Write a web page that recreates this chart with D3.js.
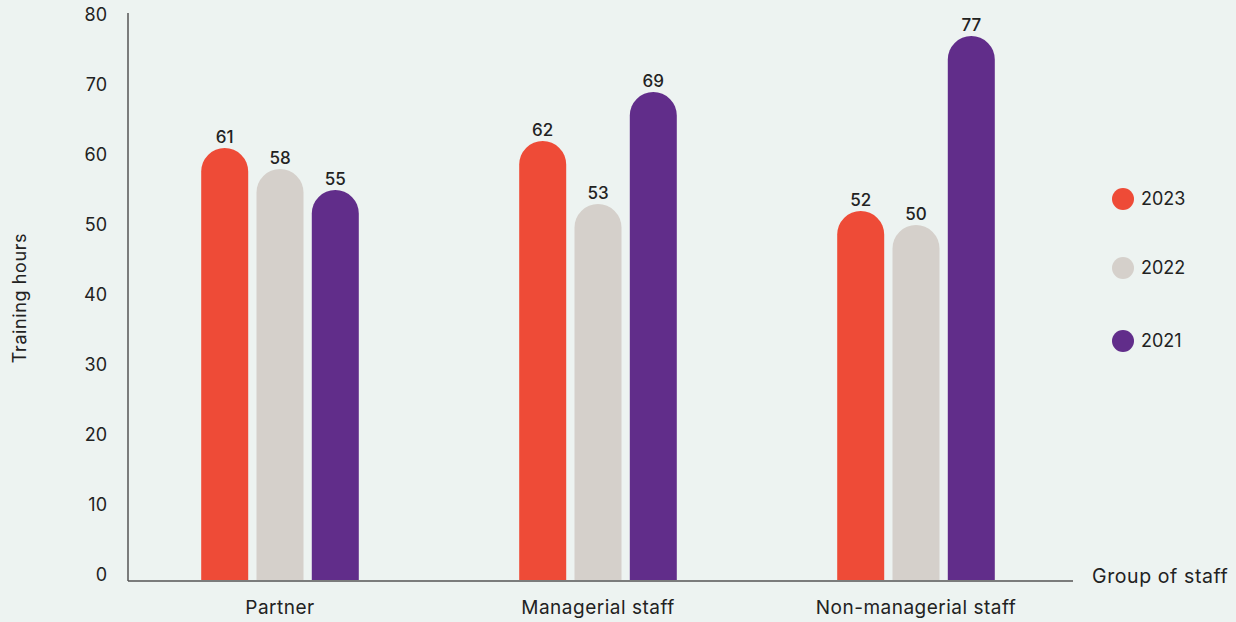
<!DOCTYPE html>
<html>
<head>
<meta charset="utf-8">
<script src="https://cdn.jsdelivr.net/npm/d3@7"></script>
<style>
  html, body { margin: 0; padding: 0; background: #EDF3F1; }
  svg { display: block; }
  text { font-family: "Inter", "Noto Sans", sans-serif; fill: #222; }
</style>
</head>
<body>
<svg id="chart" width="1236" height="622"></svg>
<script>
// Average training hours per staff group, by year
const categories = ["Partner", "Managerial staff", "Non-managerial staff"];
const years = ["2023", "2022", "2021"];
const values2023 = [61, 62, 52];
const values2022 = [58, 53, 50];
const values2021 = [55, 69, 77];
const yTicks = [0, 10, 20, 30, 40, 50, 60, 70, 80];
const colors = ["#EE4B37", "#D5D0CB", "#612D8A"];

const seriesValues = [values2023, values2022, values2021];
const rows = categories.map((c, i) => ({
  category: c,
  bars: years.map((y, j) => ({ year: y, value: seriesValues[j][i], color: colors[j] }))
}));

const svg = d3.select("#chart");
const axisX = 128, baseY = 581, axisRight = 1073;
const FONT = '"Inter", "Noto Sans", sans-serif';

const y = d3.scaleLinear().domain([0, 80]).range([575, 15]);
const x0 = d3.scaleBand().domain(categories).range([121, 1075]);
const x1 = d3.scaleBand().domain(years).range([0, 157.6]).paddingInner(0.15);

// Bars with fully rounded tops
function barPath(xl, w, top, bottom) {
  const r = w / 2;
  return `M${xl},${bottom} L${xl},${top + r} A${r},${r} 0 0 1 ${xl + w},${top + r} L${xl + w},${bottom} Z`;
}

const groups = svg.append("g").selectAll("g").data(rows).join("g")
  .attr("transform", d => `translate(${x0(d.category) + x0.bandwidth() / 2 - 157.6 / 2},0)`);

groups.selectAll("path").data(d => d.bars).join("path")
  .attr("d", d => barPath(x1(d.year), x1.bandwidth(), y(d.value), baseY - 1))
  .attr("fill", d => d.color);

groups.selectAll("text.val").data(d => d.bars).join("text")
  .attr("class", "val")
  .attr("x", d => x1(d.year) + x1.bandwidth() / 2)
  .attr("y", d => y(d.value) - 5)
  .attr("text-anchor", "middle")
  .attr("font-size", 17)
  .attr("font-weight", 500)
  .text(d => d.value);

// Axes
svg.append("line").attr("x1", axisX).attr("x2", axisX).attr("y1", 13).attr("y2", baseY)
  .attr("stroke", "#555").attr("stroke-width", 1.5);
svg.append("line").attr("x1", axisX).attr("x2", axisRight).attr("y1", baseY).attr("y2", baseY)
  .attr("stroke", "#555").attr("stroke-width", 1.5);

const yAxis = d3.axisLeft(y).tickValues(yTicks).tickSize(0).tickPadding(0);
const gy = svg.append("g").attr("transform", "translate(107,0)").call(yAxis);
gy.select(".domain").remove();
gy.selectAll("text").attr("font-size", 18).attr("fill", "#222").style("font-family", FONT);

const xAxis = d3.axisBottom(x0).tickSize(0).tickPadding(0);
const gx = svg.append("g").attr("transform", "translate(0,600)").call(xAxis);
gx.select(".domain").remove();
gx.selectAll("text").attr("font-size", 19).attr("fill", "#222")
  .style("font-family", FONT).style("letter-spacing", "0.5px");

// Axis titles
svg.append("text").attr("transform", "translate(26,298) rotate(-90)")
  .attr("text-anchor", "middle").attr("font-size", 18)
  .style("letter-spacing", "0.6px").text("Training hours");
svg.append("text").attr("x", 1092).attr("y", 583)
  .attr("font-size", 19.5).style("letter-spacing", "0.6px").text("Group of staff");

// Legend
const legend = svg.append("g").selectAll("g").data(years).join("g")
  .attr("transform", (d, i) => `translate(1123,${[199, 268, 341][i]})`);
legend.append("circle").attr("r", 11).attr("fill", (d, i) => colors[i]);
legend.append("text").attr("x", 18).attr("dy", "0.35em").attr("font-size", 18).text(d => d);
</script>
</body>
</html>
